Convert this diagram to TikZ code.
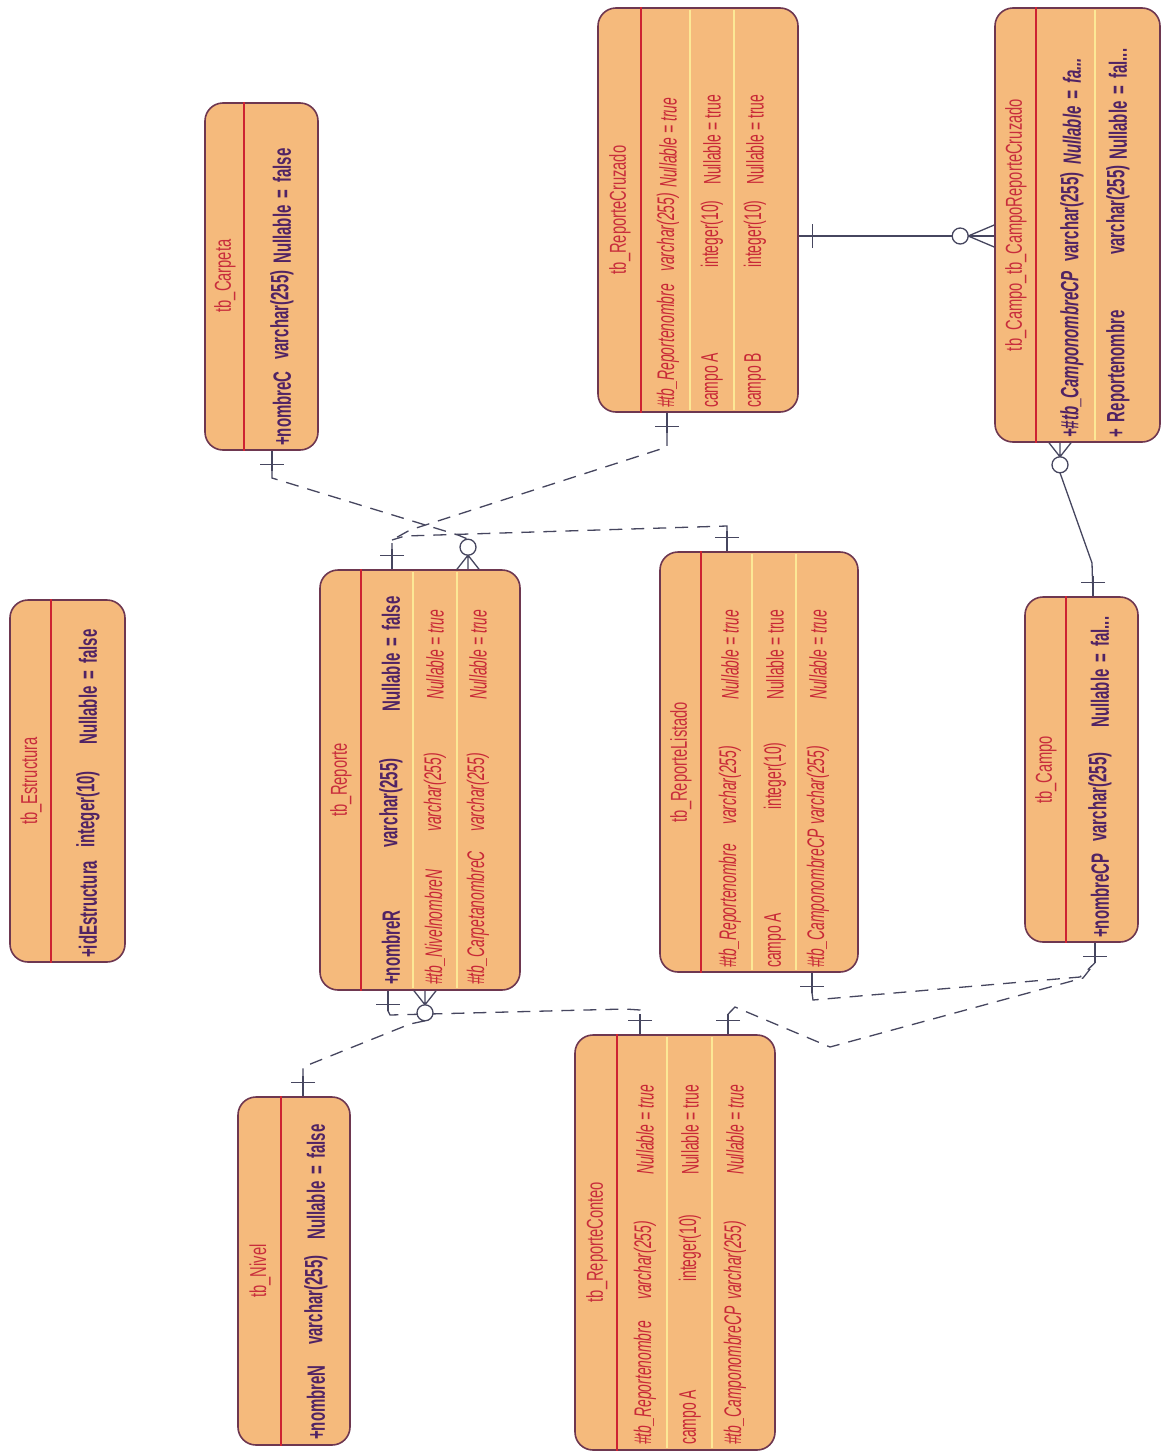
\documentclass[tikz,border=0pt]{standalone}
\usepackage{fontspec}
\newfontfamily\erreg[FakeStretch=0.58]{Liberation Sans}
\newfontfamily\erbold[FakeStretch=0.6]{Liberation Sans}
\newfontfamily\ertitle[FakeStretch=0.64]{Liberation Sans}
\newcommand\widesp{\spaceskip 7pt\relax}
\usetikzlibrary{calc}
\definecolor{tfill}{RGB}{245,186,124}
\definecolor{tborder}{RGB}{110,55,80}
\definecolor{tdiv}{RGB}{205,35,50}
\definecolor{ttitle}{RGB}{200,45,60}
\definecolor{tred}{RGB}{200,40,55}
\definecolor{tdark}{RGB}{80,35,100}
\definecolor{lcol}{RGB}{70,70,95}
\definecolor{rowsep}{RGB}{252,232,150}
\newcommand\cell[5]{\node[#1] (#2) at (#3,#4) {#5};}
\tikzset{
  tbl/.style={draw=tborder, line width=1.6pt, fill=tfill, rounded corners=18pt, inner sep=0pt},
  divl/.style={tdiv, line width=1.6pt},
  sepl/.style={rowsep, line width=2.2pt},
  ttl/.style={rotate=90, inner sep=0pt, text=ttitle, font=\ertitle\fontsize{23}{25}\selectfont},
  pk/.style={rotate=90, anchor=west, inner sep=0pt, text=tdark, font={\erbold\bfseries\fontsize{25}{27}\selectfont\widesp}},
  pkfk/.style={rotate=90, anchor=west, inner sep=0pt, text=tdark, font={\erbold\bfseries\itshape\fontsize{25}{27}\selectfont\widesp}},
  fk/.style={rotate=90, anchor=west, inner sep=0pt, text=tred, font=\erreg\itshape\fontsize{24}{26}\selectfont},
  attr/.style={rotate=90, anchor=west, inner sep=0pt, text=tred, font=\erreg\fontsize{24}{26}\selectfont},
  rel/.style={lcol, line width=1.3pt},
  drel/.style={lcol, line width=1.3pt, dash pattern=on 13pt off 9pt},
  onem/.pic={\draw[lcol, line width=1.3pt] (0pt,0pt)--(20pt,0pt); \draw[lcol, line width=1.3pt] (14pt,-12pt)--(14pt,12pt);},
  manym/.pic={\draw[lcol, line width=1.3pt] (0pt,-11pt)--(#1pt,0pt)--(0pt,11pt) (0pt,0pt)--(#1pt,0pt);
              \draw[lcol, line width=1.3pt, fill=white] (#1pt+8pt,0pt) circle (8pt);},
}
\begin{document}
\begin{tikzpicture}[x=1pt,y=-1pt]
\useasboundingbox (0,0) rectangle (1163,1454);
\fill[white] (0,0) rectangle (1163,1454);

% ---------- tables ----------
\node[tbl, minimum width=115pt, minimum height=362pt] (est) at (67.5,781) {};
\node[tbl, minimum width=113pt, minimum height=347pt] (carp) at (261.5,276.5) {};
\node[tbl, minimum width=200pt, minimum height=420pt] (rep) at (420,780) {};
\node[tbl, minimum width=200pt, minimum height=404pt] (rcz) at (698,210) {};
\node[tbl, minimum width=165pt, minimum height=434pt] (crc) at (1077.5,225) {};
\node[tbl, minimum width=198pt, minimum height=420pt] (rls) at (759,762) {};
\node[tbl, minimum width=113pt, minimum height=345pt] (cam) at (1081.5,769.5) {};
\node[tbl, minimum width=112pt, minimum height=348pt] (niv) at (294,1271) {};
\node[tbl, minimum width=200pt, minimum height=415pt] (rct) at (675,1242.5) {};

% row separators
\foreach \t/\a in {rep/-7, rep/37, rcz/-8, rcz/36, rls/-7, rls/37, rct/-8, rct/37, crc/17.5}{
  \draw[sepl] ($(\t.north)+(\a,3)$) -- ($(\t.south)+(\a,-3)$);
}
% dividers
\foreach \t/\a in {est/42, carp/40, rep/42, rcz/44, crc/42, rls/42, cam/42, niv/44, rct/43}{
  \draw[divl] ($(\t.north west)+(\a,0)$) -- ($(\t.south west)+(\a,0)$);
}

% ---------- texts ----------
\cell{ttl}{est-t}{31}{781}{tb\_Estructura}
\cell{pk}{est-a}{88}{958}{+idEstructura}
\cell{pk}{est-b}{88}{848}{integer(10)}
\cell{pk}{est-c}{88}{745}{Nullable = false}

\cell{ttl}{carp-t}{225}{276}{tb\_Carpeta}
\cell{pk}{carp-a}{282}{446}{+nombreC}
\cell{pk}{carp-b}{282}{360}{varchar(255)}
\cell{pk}{carp-c}{282}{264}{Nullable = false}

\cell{ttl}{rep-t}{341}{780}{tb\_Reporte}
\cell{pk}{rep-1a}{391}{985}{+nombreR}
\cell{pk}{rep-1b}{391}{848}{varchar(255)}
\cell{pk}{rep-1c}{391}{712}{Nullable = false}
\cell{fk}{rep-2a}{435}{985}{\#tb\_NivelnombreN}
\cell{fk}{rep-2b}{435}{832}{varchar(255)}
\cell{fk}{rep-2c}{435}{700}{Nullable = true}
\cell{fk}{rep-3a}{478}{985}{\#tb\_CarpetanombreC}
\cell{fk}{rep-3b}{478}{832}{varchar(255)}
\cell{fk}{rep-3c}{478}{700}{Nullable = true}

\cell{ttl}{rcz-t}{620}{210}{tb\_ReporteCruzado}
\cell{fk}{rcz-1a}{668}{408}{\#tb\_Reportenombre}
\cell{fk}{rcz-1b}{668}{272}{varchar(255)}
\cell{fk}{rcz-1c}{668}{188}{Nullable = true}
\cell{attr}{rcz-2a}{712}{408}{campo A}
\cell{attr}{rcz-2b}{712}{268}{integer(10)}
\cell{attr}{rcz-2c}{712}{185}{Nullable = true}
\cell{attr}{rcz-3a}{755}{408}{campo B}
\cell{attr}{rcz-3b}{755}{268}{integer(10)}
\cell{attr}{rcz-3c}{755}{185}{Nullable = true}

\cell{ttl}{crc-t}{1016}{225}{tb\_Campo\_tb\_CampoReporteCruzado}
\cell{pkfk}{crc-1a}{1072}{438}{+\#tb\_CamponombreCP}
\cell{pk}{crc-1b}{1072}{262}{varchar(255)}
\cell{pkfk}{crc-1c}{1072}{165}{Nullable = fa...}
\cell{pk}{crc-2a}{1118}{438}{+ Reportenombre}
\cell{pk}{crc-2b}{1118}{255}{varchar(255)}
\cell{pk}{crc-2c}{1118}{160}{Nullable = fal...}

\cell{ttl}{rls-t}{681}{762}{tb\_ReporteListado}
\cell{fk}{rls-1a}{730}{968}{\#tb\_Reportenombre}
\cell{fk}{rls-1b}{730}{825}{varchar(255)}
\cell{fk}{rls-1c}{730}{700}{Nullable = true}
\cell{attr}{rls-2a}{775}{968}{campo A}
\cell{attr}{rls-2b}{775}{810}{integer(10)}
\cell{attr}{rls-2c}{775}{700}{Nullable = true}
\cell{fk}{rls-3a}{818}{968}{\#tb\_CamponombreCP}
\cell{fk}{rls-3b}{818}{825}{varchar(255)}
\cell{fk}{rls-3c}{818}{700}{Nullable = true}

\cell{ttl}{cam-t}{1046}{770}{tb\_Campo}
\cell{pk}{cam-a}{1100}{938}{+nombreCP}
\cell{pk}{cam-b}{1100}{842}{varchar(255)}
\cell{pk}{cam-c}{1100}{728}{Nullable = fal...}

\cell{ttl}{niv-t}{260}{1271}{tb\_Nivel}
\cell{pk}{niv-a}{316}{1440}{+nombreN}
\cell{pk}{niv-b}{316}{1345}{varchar(255)}
\cell{pk}{niv-c}{316}{1240}{Nullable = false}

\cell{ttl}{rct-t}{597}{1242}{tb\_ReporteConteo}
\cell{fk}{rct-1a}{645}{1445}{\#tb\_Reportenombre}
\cell{fk}{rct-1b}{645}{1300}{varchar(255)}
\cell{fk}{rct-1c}{645}{1175}{Nullable = true}
\cell{attr}{rct-2a}{690}{1445}{campo A}
\cell{attr}{rct-2b}{690}{1282}{integer(10)}
\cell{attr}{rct-2c}{690}{1175}{Nullable = true}
\cell{fk}{rct-3a}{735}{1445}{\#tb\_CamponombreCP}
\cell{fk}{rct-3b}{735}{1300}{varchar(255)}
\cell{fk}{rct-3c}{735}{1175}{Nullable = true}

% ---------- attachment points ----------
\coordinate (carpS) at ($(carp.south)+(10.5,0)$);
\coordinate (repN1) at ($(rep.north)+(48,0)$);
\coordinate (repN2) at ($(rep.north)+(-28,0)$);
\coordinate (rczS) at ($(rcz.south)+(-31,0)$);
\coordinate (rlsN) at ($(rls.north)+(-32,0)$);
\coordinate (repS1) at ($(rep.south)+(5,0)$);
\coordinate (repS2) at ($(rep.south)+(-32,0)$);
\coordinate (nivN) at ($(niv.north)+(9,0)$);
\coordinate (rctN1) at ($(rct.north)+(-35,0)$);
\coordinate (rctN2) at ($(rct.north)+(53,0)$);
\coordinate (camS) at ($(cam.south)+(13.5,0)$);
\coordinate (rlsS) at ($(rls.south)+(53,0)$);
\coordinate (rczE) at ($(rcz.east)+(0,26)$);
\coordinate (crcW) at ($(crc.west)+(0,11)$);
\coordinate (crcS) at ($(crc.south)+(-17.5,0)$);
\coordinate (camN) at ($(cam.north)+(11.5,0)$);

% ---------- dashed relations ----------
\draw[drel] ($(carpS)+(0,20)$) -- (272,478) -- (458,535) -- ($(repN1)+(0,-30)$);
\draw[drel] ($(rczS)+(0,20)$) -- (667,447) -- (410,530) -- (392,540) -- ($(repN2)+(0,-20)$);
\draw[drel] ($(rlsN)+(0,-20)$) -- (727,526) -- (405,536) -- (392,540);
\draw[drel] ($(repS1)+(0,30)$) -- (410,1024) -- (303,1067) -- ($(nivN)+(0,-20)$);
\draw[drel] ($(repS2)+(0,20)$) -- (390,1015) -- (625,1009) -- (640,1010) -- ($(rctN1)+(0,-20)$);
\draw[drel] ($(rctN2)+(0,-20)$) -- (735,1007) -- (830,1047) -- (1083,978) -- ($(camS)+(0,20)$);
\draw[drel] ($(rlsS)+(0,20)$) -- (813,1000) -- (1080,977) -- ($(camS)+(0,20)$);

\pic[rotate=-90] at (carpS) {onem};
\pic[rotate=90] at (repN1) {manym=14};
\pic[rotate=-90] at (rczS) {onem};
\pic[rotate=90] at (repN2) {onem};
\pic[rotate=90] at (rlsN) {onem};
\pic[rotate=-90] at (repS1) {manym=14};
\pic[rotate=90] at (nivN) {onem};
\pic[rotate=-90] at (repS2) {onem};
\pic[rotate=90] at (rctN1) {onem};
\pic[rotate=90] at (rctN2) {onem};
\pic[rotate=-90] at (camS) {onem};
\pic[rotate=-90] at (rlsS) {onem};

% ---------- solid relations ----------
\draw[rel] (rczE) -- (crcW);
\pic at (rczE) {onem};
\pic[rotate=180] at (crcW) {manym=26};
\draw[rel] ($(crcS)+(0,30)$) -- (1092,563) -- (camN);
\pic[rotate=-90] at (crcS) {manym=14};
\pic[rotate=90] at (camN) {onem};
\end{tikzpicture}
\end{document}
